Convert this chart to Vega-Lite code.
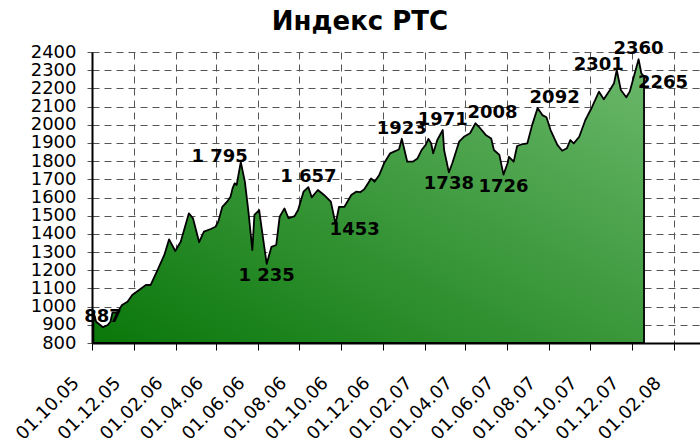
{
  "$schema": "https://vega.github.io/schema/vega-lite/v6.json",
  "autosize": "none",
  "width": 608,
  "height": 291,
  "padding": {"left": 92, "top": 52, "right": 0, "bottom": 100},
  "background": "white",
  "title": {
    "text": "Индекс РТС",
    "font": "DejaVu Sans",
    "fontSize": 26,
    "fontWeight": "bold",
    "color": "black",
    "anchor": "middle",
    "offset": 5,
    "dx": -36
  },
  "config": {
    "view": {"stroke": null},
    "axis": {
      "labelFont": "DejaVu Sans",
      "labelFontSize": 18,
      "labelColor": "black",
      "domainColor": "black",
      "domainWidth": 2,
      "gridColor": "#555555",
      "gridDash": [7, 5],
      "gridWidth": 1,
      "gridOpacity": 1,
      "title": null
    }
  },
  "datasets": {
    "rts": [
      {"date": "2005-10-03", "value": 975},
      {"date": "2005-10-07", "value": 917},
      {"date": "2005-10-17", "value": 887},
      {"date": "2005-10-24", "value": 899},
      {"date": "2005-10-28", "value": 917},
      {"date": "2005-10-31", "value": 967},
      {"date": "2005-11-07", "value": 967},
      {"date": "2005-11-14", "value": 1009},
      {"date": "2005-11-22", "value": 1027},
      {"date": "2005-11-29", "value": 1064},
      {"date": "2005-12-09", "value": 1091},
      {"date": "2005-12-19", "value": 1119},
      {"date": "2005-12-26", "value": 1119},
      {"date": "2006-01-05", "value": 1201},
      {"date": "2006-01-15", "value": 1284},
      {"date": "2006-01-22", "value": 1370},
      {"date": "2006-01-31", "value": 1306},
      {"date": "2006-02-08", "value": 1357},
      {"date": "2006-02-20", "value": 1513},
      {"date": "2006-02-26", "value": 1486},
      {"date": "2006-03-07", "value": 1354},
      {"date": "2006-03-14", "value": 1412},
      {"date": "2006-03-24", "value": 1427},
      {"date": "2006-03-31", "value": 1439},
      {"date": "2006-04-04", "value": 1467},
      {"date": "2006-04-10", "value": 1549},
      {"date": "2006-04-17", "value": 1577},
      {"date": "2006-04-22", "value": 1604},
      {"date": "2006-04-25", "value": 1650},
      {"date": "2006-04-28", "value": 1678},
      {"date": "2006-05-01", "value": 1669},
      {"date": "2006-05-07", "value": 1795},
      {"date": "2006-05-13", "value": 1687},
      {"date": "2006-05-18", "value": 1531},
      {"date": "2006-05-24", "value": 1311},
      {"date": "2006-05-27", "value": 1504},
      {"date": "2006-06-03", "value": 1531},
      {"date": "2006-06-07", "value": 1421},
      {"date": "2006-06-14", "value": 1235},
      {"date": "2006-06-21", "value": 1329},
      {"date": "2006-06-28", "value": 1339},
      {"date": "2006-07-03", "value": 1494},
      {"date": "2006-07-10", "value": 1540},
      {"date": "2006-07-16", "value": 1486},
      {"date": "2006-07-25", "value": 1498},
      {"date": "2006-07-30", "value": 1531},
      {"date": "2006-08-07", "value": 1632},
      {"date": "2006-08-14", "value": 1657},
      {"date": "2006-08-19", "value": 1601},
      {"date": "2006-08-28", "value": 1641},
      {"date": "2006-09-06", "value": 1614},
      {"date": "2006-09-16", "value": 1577},
      {"date": "2006-09-23", "value": 1453},
      {"date": "2006-09-28", "value": 1549},
      {"date": "2006-10-06", "value": 1549},
      {"date": "2006-10-16", "value": 1614},
      {"date": "2006-10-23", "value": 1632},
      {"date": "2006-10-29", "value": 1629},
      {"date": "2006-11-04", "value": 1645},
      {"date": "2006-11-11", "value": 1687},
      {"date": "2006-11-14", "value": 1705},
      {"date": "2006-11-19", "value": 1687},
      {"date": "2006-11-26", "value": 1724},
      {"date": "2006-12-03", "value": 1788},
      {"date": "2006-12-12", "value": 1843},
      {"date": "2006-12-20", "value": 1856},
      {"date": "2006-12-25", "value": 1865},
      {"date": "2006-12-29", "value": 1923},
      {"date": "2007-01-06", "value": 1797},
      {"date": "2007-01-14", "value": 1797},
      {"date": "2007-01-21", "value": 1815},
      {"date": "2007-01-27", "value": 1861},
      {"date": "2007-02-02", "value": 1889},
      {"date": "2007-02-06", "value": 1922},
      {"date": "2007-02-10", "value": 1898},
      {"date": "2007-02-13", "value": 1843},
      {"date": "2007-02-19", "value": 1916},
      {"date": "2007-02-27", "value": 1971},
      {"date": "2007-03-01", "value": 1861},
      {"date": "2007-03-08", "value": 1738},
      {"date": "2007-03-13", "value": 1788},
      {"date": "2007-03-23", "value": 1907},
      {"date": "2007-03-30", "value": 1934},
      {"date": "2007-04-08", "value": 1953},
      {"date": "2007-04-16", "value": 2008},
      {"date": "2007-04-21", "value": 1989},
      {"date": "2007-05-01", "value": 1944},
      {"date": "2007-05-09", "value": 1925},
      {"date": "2007-05-13", "value": 1861},
      {"date": "2007-05-21", "value": 1834},
      {"date": "2007-05-27", "value": 1726},
      {"date": "2007-06-02", "value": 1788},
      {"date": "2007-06-04", "value": 1824},
      {"date": "2007-06-11", "value": 1797},
      {"date": "2007-06-16", "value": 1883},
      {"date": "2007-06-24", "value": 1894},
      {"date": "2007-07-01", "value": 1898},
      {"date": "2007-07-08", "value": 1998},
      {"date": "2007-07-16", "value": 2092},
      {"date": "2007-07-23", "value": 2053},
      {"date": "2007-07-29", "value": 2041},
      {"date": "2007-08-04", "value": 1971},
      {"date": "2007-08-14", "value": 1889},
      {"date": "2007-08-21", "value": 1857},
      {"date": "2007-08-28", "value": 1871},
      {"date": "2007-09-02", "value": 1916},
      {"date": "2007-09-07", "value": 1898},
      {"date": "2007-09-15", "value": 1934},
      {"date": "2007-09-24", "value": 2026},
      {"date": "2007-10-04", "value": 2099},
      {"date": "2007-10-14", "value": 2182},
      {"date": "2007-10-21", "value": 2140},
      {"date": "2007-10-30", "value": 2191},
      {"date": "2007-11-05", "value": 2228},
      {"date": "2007-11-09", "value": 2301},
      {"date": "2007-11-15", "value": 2191},
      {"date": "2007-11-23", "value": 2151},
      {"date": "2007-11-28", "value": 2182},
      {"date": "2007-12-04", "value": 2264},
      {"date": "2007-12-11", "value": 2360},
      {"date": "2007-12-15", "value": 2283},
      {"date": "2007-12-19", "value": 2265}
    ],
    "labels": [
      {"date": "2005-10-17", "value": 887, "label": "887", "side": "above"},
      {"date": "2006-05-07", "value": 1795, "label": "1 795", "side": "left"},
      {"date": "2006-06-14", "value": 1235, "label": "1 235", "side": "below"},
      {"date": "2006-08-14", "value": 1657, "label": "1 657", "side": "above"},
      {"date": "2006-09-23", "value": 1453, "label": "1453", "side": "right"},
      {"date": "2006-12-29", "value": 1923, "label": "1923", "side": "above"},
      {"date": "2007-02-27", "value": 1971, "label": "1971", "side": "above"},
      {"date": "2007-03-08", "value": 1738, "label": "1738", "side": "below"},
      {"date": "2007-04-16", "value": 2008, "label": "2008", "side": "aboveRight"},
      {"date": "2007-05-27", "value": 1726, "label": "1726", "side": "below"},
      {"date": "2007-07-16", "value": 2092, "label": "2092", "side": "aboveRight"},
      {"date": "2007-11-09", "value": 2301, "label": "2301", "side": "left"},
      {"date": "2007-12-11", "value": 2360, "label": "2360", "side": "above"},
      {"date": "2007-12-19", "value": 2265, "label": "2265", "side": "right"}
    ]
  },
  "encoding": {
    "x": {
      "field": "date",
      "type": "temporal",
      "scale": {
        "type": "utc",
        "domain": [
          {"year": 2005, "month": 10, "date": 1, "utc": true},
          {"year": 2008, "month": 3, "date": 10, "utc": true}
        ]
      },
      "axis": {
        "values": [
          {"year": 2005, "month": 10, "date": 1, "utc": true},
          {"year": 2005, "month": 12, "date": 1, "utc": true},
          {"year": 2006, "month": 2, "date": 1, "utc": true},
          {"year": 2006, "month": 4, "date": 1, "utc": true},
          {"year": 2006, "month": 6, "date": 1, "utc": true},
          {"year": 2006, "month": 8, "date": 1, "utc": true},
          {"year": 2006, "month": 10, "date": 1, "utc": true},
          {"year": 2006, "month": 12, "date": 1, "utc": true},
          {"year": 2007, "month": 2, "date": 1, "utc": true},
          {"year": 2007, "month": 4, "date": 1, "utc": true},
          {"year": 2007, "month": 6, "date": 1, "utc": true},
          {"year": 2007, "month": 8, "date": 1, "utc": true},
          {"year": 2007, "month": 10, "date": 1, "utc": true},
          {"year": 2007, "month": 12, "date": 1, "utc": true},
          {"year": 2008, "month": 2, "date": 1, "utc": true}
        ],
        "format": "%d.%m.%y",
        "labelAngle": -45,
        "labelAlign": "right",
        "labelBaseline": "middle",
        "labelOffset": -16,
        "labelPadding": 30,
        "tickSize": 7,
        "tickColor": "black",
        "labelOverlap": false,
        "labelFlush": false
      }
    },
    "y": {
      "field": "value",
      "type": "quantitative",
      "scale": {"domain": [800, 2400], "nice": false, "zero": false},
      "axis": {
        "values": [800, 900, 1000, 1100, 1200, 1300, 1400, 1500, 1600, 1700, 1800, 1900, 2000, 2100, 2200, 2300, 2400],
        "format": "d",
        "tickSize": 5,
        "tickColor": "#555555",
        "labelPadding": 11,
        "labelOverlap": false,
        "labelFlush": false
      }
    }
  },
  "layer": [
    {
      "data": {"name": "rts"},
      "mark": {
        "type": "area",
        "stroke": "black",
        "strokeWidth": 1.8,
        "strokeJoin": "round",
        "fill": {
          "gradient": "linear",
          "x1": 0, "y1": 1, "x2": 1, "y2": 0,
          "stops": [
            {"offset": 0, "color": "#0a770a"},
            {"offset": 1, "color": "#6bb86b"}
          ]
        }
      },
      "encoding": {"y2": {"datum": 800}}
    },
    {
      "data": {"name": "labels"},
      "transform": [{"filter": "datum.side === 'above'"}],
      "mark": {"type": "text", "font": "DejaVu Sans", "fontWeight": "bold", "fontSize": 18, "color": "black", "align": "center", "baseline": "alphabetic", "dy": -5},
      "encoding": {"text": {"field": "label"}}
    },
    {
      "data": {"name": "labels"},
      "transform": [{"filter": "datum.side === 'aboveRight'"}],
      "mark": {"type": "text", "font": "DejaVu Sans", "fontWeight": "bold", "fontSize": 18, "color": "black", "align": "left", "baseline": "alphabetic", "dx": -8, "dy": -5},
      "encoding": {"text": {"field": "label"}}
    },
    {
      "data": {"name": "labels"},
      "transform": [{"filter": "datum.side === 'left'"}],
      "mark": {"type": "text", "font": "DejaVu Sans", "fontWeight": "bold", "fontSize": 18, "color": "black", "align": "right", "baseline": "alphabetic", "dx": 7, "dy": 0},
      "encoding": {"text": {"field": "label"}}
    },
    {
      "data": {"name": "labels"},
      "transform": [{"filter": "datum.side === 'below'"}],
      "mark": {"type": "text", "font": "DejaVu Sans", "fontWeight": "bold", "fontSize": 18, "color": "black", "align": "center", "baseline": "top", "dy": 3},
      "encoding": {"text": {"field": "label"}}
    },
    {
      "data": {"name": "labels"},
      "transform": [{"filter": "datum.side === 'right'"}],
      "mark": {"type": "text", "font": "DejaVu Sans", "fontWeight": "bold", "fontSize": 18, "color": "black", "align": "left", "baseline": "top", "dx": -6, "dy": -3},
      "encoding": {"text": {"field": "label"}}
    }
  ]
}
